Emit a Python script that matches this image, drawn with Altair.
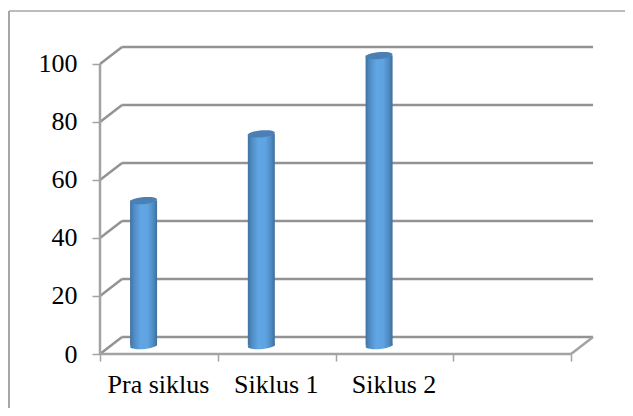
import altair as alt
import pandas as pd

categories = ["Pra siklus", "Siklus 1", "Siklus 2"]
values = [50, 73, 100]
y_ticks = [0, 20, 40, 60, 80, 100]
x_ticks = [0, 1, 2, 3, 4]

PW, PH = 494, 307
X_MAX, Y_MAX = 4.195, 105.86
DX, DY = 0.187, 5.86      # depth of the 3-D floor, in axis units
BAR_POS = 0.37
BAR_LIFT = 2.9

GRID = "#939393"
AXIS = "#a3a3a3"
FONT = "Liberation Serif"

x_scale = alt.Scale(domain=[0, X_MAX], nice=False, zero=False, padding=0)
y_scale = alt.Scale(domain=[0, Y_MAX], nice=False, zero=False)
names = "[" + ",".join(f"'{c}'" for c in categories) + "]"

x_axis = alt.Axis(
    values=x_ticks, title=None, grid=False, domain=False, ticks=True, tickSize=7,
    tickColor=AXIS, tickWidth=1.5, labelExpr=f"{names}[datum.value] || ''",
    labelOffset=58, labelFont=FONT, labelFontSize=26, labelColor="#000000",
    labelPadding=10, labelFlush=False, labelOverlap=False,
)
y_axis = alt.Axis(
    values=y_ticks, title=None, grid=False, domain=False, ticks=True, tickSize=8,
    tickColor=AXIS, tickWidth=1.5, labelFont=FONT, labelFontSize=26, labelColor="#000000",
    labelPadding=15, labelOverlap=False, format="d",
)

back = pd.DataFrame({"x": DX, "x2": 4 + DX, "y": [v + DY for v in y_ticks]})
diag = pd.DataFrame({"x": 0, "x2": DX, "y": y_ticks, "y2": [v + DY for v in y_ticks]})
floor = pd.DataFrame({"x": [0, 4], "x2": [4, 4 + DX], "y": [0, 0], "y2": [0, DY]})
left = pd.DataFrame({"x": [0], "y": [0], "y2": [100]})
bars = pd.DataFrame({
    "x": [i + BAR_POS for i in range(len(values))],
    "base": BAR_LIFT,
    "top": [v + BAR_LIFT for v in values],
})

back_layer = alt.Chart(back).mark_rule(color=GRID, strokeWidth=2.5).encode(
    x=alt.X("x:Q", scale=x_scale, axis=x_axis), x2="x2:Q",
    y=alt.Y("y:Q", scale=y_scale, axis=y_axis),
)
diag_layer = alt.Chart(diag).mark_rule(color=GRID, strokeWidth=2.5).encode(
    x=alt.X("x:Q", scale=x_scale), x2="x2:Q",
    y=alt.Y("y:Q", scale=y_scale), y2="y2:Q",
)
floor_layer = alt.Chart(floor).mark_rule(color=AXIS, strokeWidth=2.5).encode(
    x=alt.X("x:Q", scale=x_scale), x2="x2:Q",
    y=alt.Y("y:Q", scale=y_scale), y2="y2:Q",
)
left_layer = alt.Chart(left).mark_rule(color=AXIS, strokeWidth=2.5).encode(
    x=alt.X("x:Q", scale=x_scale),
    y=alt.Y("y:Q", scale=y_scale), y2="y2:Q",
)

body_fill = alt.Gradient(
    gradient="linear", x1=0, x2=1, y1=0, y2=0,
    stops=[
        alt.GradientStop(offset=0, color="#41719f"),
        alt.GradientStop(offset=0.15, color="#4f8cc6"),
        alt.GradientStop(offset=0.4, color="#61a6e4"),
        alt.GradientStop(offset=0.65, color="#5fa3e2"),
        alt.GradientStop(offset=0.85, color="#4f8cc4"),
        alt.GradientStop(offset=1, color="#3f6f9b"),
    ],
)
ellipse = "M-0.995,0.09 A1,0.25 -5 1 1 0.995,-0.09 A1,0.25 -5 1 1 -0.995,0.09 Z"
bottom_layer = alt.Chart(bars).mark_point(
    shape=ellipse, size=729, filled=True, fill=body_fill, opacity=1, strokeWidth=0
).encode(x=alt.X("x:Q", scale=x_scale), y=alt.Y("base:Q", scale=y_scale))
body_layer = alt.Chart(bars).mark_bar(width=27, fill=body_fill).encode(
    x=alt.X("x:Q", scale=x_scale),
    y=alt.Y("base:Q", scale=y_scale), y2="top:Q",
)
cap_layer = alt.Chart(bars).mark_point(
    shape=ellipse, size=729, filled=True, fill="#4b80b4", opacity=1, strokeWidth=0
).encode(x=alt.X("x:Q", scale=x_scale), y=alt.Y("top:Q", scale=y_scale))

one = pd.DataFrame({"a": [0]})
frame_top = alt.Chart(one).mark_rule(color="#a6a6a6", strokeWidth=1.5).encode(
    x=alt.value(-91), x2=alt.value(525), y=alt.value(-36),
)
frame_left = alt.Chart(one).mark_rule(color="#a6a6a6", strokeWidth=2).encode(
    x=alt.value(-91), y=alt.value(-36), y2=alt.value(361),
)

chart = alt.layer(
    back_layer, diag_layer, floor_layer, left_layer,
    bottom_layer, body_layer, cap_layer, frame_top, frame_left,
).properties(
    width=PW, height=PH,
    autosize=alt.AutoSizeParams(type="none"),
    padding={"left": 92, "top": 39, "right": 31, "bottom": 54},
    background="#ffffff",
).configure_view(stroke=None)

chart.save("out.html", embed_options={"renderer": "svg", "actions": False})
